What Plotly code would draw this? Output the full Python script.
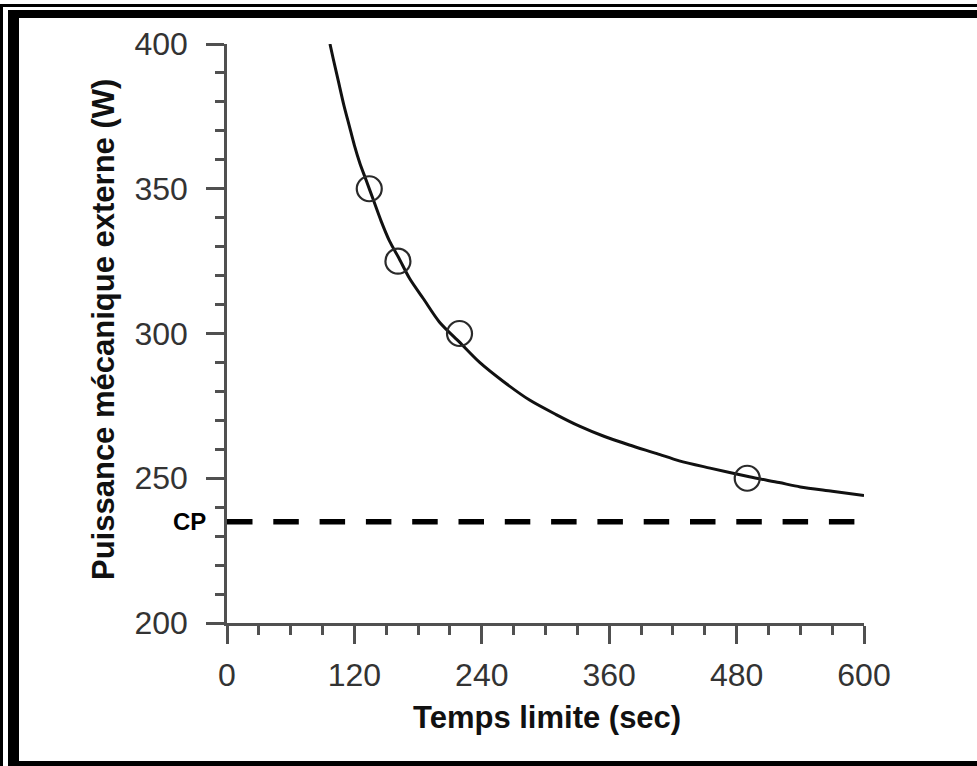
import plotly.graph_objects as go

# ---- data ----
curve_t = [97, 100, 105, 110, 115, 120, 125, 131, 138, 145, 153, 162, 172, 185, 200,
           219, 238, 260, 285, 310, 332, 355, 379, 405, 426, 455, 492, 520, 540, 570, 600]
curve_p = [400, 395, 387, 379, 372, 365, 359, 353, 346, 339, 332, 326, 319, 312, 304,
           297, 290, 283.5, 277, 272, 268, 264.5, 261.5, 258.5, 256, 253.5, 250.5, 248.5, 247, 245.5, 244]

obs_t = [134, 161, 219, 490]
obs_p = [350, 325, 300, 250]

cp_value = 235
cp_t = [0, 612]

x_ticks = [0, 120, 240, 360, 480, 600]
y_ticks = [200, 250, 300, 350, 400]

x_title = "Temps limite (sec)"
y_title = "Puissance mécanique externe (W)"
cp_label = "CP"

# ---- layout geometry (pixels) ----
W, H = 977, 766
L, R, T, B = 227, 113, 44, 143
PW, PH = W - L - R, H - T - B


def px(xp):
    return (xp - L) / PW


def py(yp):
    return (T + PH - yp) / PH


fig = go.Figure()

fig.add_trace(go.Scatter(
    x=cp_t, y=[cp_value] * len(cp_t), mode="lines",
    line=dict(color="#000000", width=5.5, dash="25.5px,20.8px"),
    hoverinfo="skip", showlegend=False))

fig.add_trace(go.Scatter(
    x=curve_t, y=curve_p, mode="lines",
    line=dict(color="#111111", width=3, shape="spline", smoothing=0.8),
    showlegend=False))

fig.add_trace(go.Scatter(
    x=obs_t, y=obs_p, mode="markers",
    marker=dict(symbol="circle-open", size=25, color="#2a2a2a",
                line=dict(width=2.2, color="#2a2a2a")),
    cliponaxis=False, showlegend=False))

tick_font = dict(family="Liberation Sans, Arial, sans-serif", size=32, color="#333333")
axcol = "#505050"

fig.update_xaxes(
    range=[0, 600], tickmode="array", tickvals=x_ticks,
    ticktext=[str(v) for v in x_ticks],
    showline=True, linecolor=axcol, linewidth=2.5,
    ticks="outside", ticklen=18, tickwidth=2.5, tickcolor=axcol,
    minor=dict(dtick=30, tick0=0, ticks="outside", ticklen=9, tickwidth=2.5, tickcolor=axcol, showgrid=False),
    showgrid=False, zeroline=False, tickfont=tick_font, ticklabelstandoff=4)

fig.update_yaxes(
    range=[200, 400], tickmode="array", tickvals=y_ticks,
    ticktext=[str(v) for v in y_ticks],
    showline=True, linecolor=axcol, linewidth=2.5,
    ticks="outside", ticklen=18, tickwidth=2.5, tickcolor=axcol,
    minor=dict(dtick=10, tick0=200, ticks="outside", ticklen=9, tickwidth=2.5, tickcolor=axcol, showgrid=False),
    showgrid=False, zeroline=False, tickfont=tick_font, ticklabelstandoff=12)

title_font = dict(family="Liberation Sans, Arial, sans-serif", size=31, color="#111111")

annotations = [
    dict(text="<b>%s</b>" % x_title, xref="paper", yref="paper",
         x=px(547), y=py(717), xanchor="center", yanchor="middle",
         showarrow=False, font=title_font),
    dict(text="<b>%s</b>" % y_title, xref="paper", yref="paper",
         x=px(103), y=py(330), xanchor="center", yanchor="middle",
         textangle=-90, showarrow=False, font=title_font),
    dict(text="<b>%s</b>" % cp_label, xref="paper", yref="y",
         x=px(208), y=cp_value, xanchor="right", yanchor="middle",
         showarrow=False,
         font=dict(family="Liberation Sans, Arial, sans-serif", size=24, color="#000000")),
]

# picture frame (double black border)
frame = []


def rect(x0, y0, x1, y1):
    frame.append(dict(type="rect", xref="paper", yref="paper",
                      x0=px(x0), x1=px(x1), y0=py(y1), y1=py(y0),
                      fillcolor="#000000", line=dict(width=0), layer="above"))


rect(0, 4, 3, H)        # outer thin left
rect(0, 4, W, 7)        # outer thin top
rect(8, 10, 19, H)      # thick left
rect(8, 10, W, 18)      # thick top
rect(8, 761, W, H)      # thick bottom

fig.update_layout(
    width=W, height=H, autosize=False,
    margin=dict(l=L, r=R, t=T, b=B, pad=0),
    paper_bgcolor="white", plot_bgcolor="white",
    showlegend=False, annotations=annotations, shapes=frame)

fig.write_html("out.html")
